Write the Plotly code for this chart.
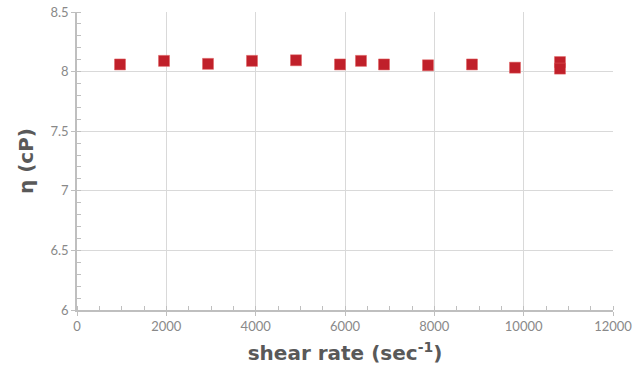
import plotly.graph_objects as go

shear_rate = [963, 1948, 2933, 3918, 4903, 5888, 6358, 6873, 7858, 8843, 9806, 10813, 10813]
viscosity = [8.06, 8.09, 8.065, 8.09, 8.095, 8.06, 8.09, 8.06, 8.053, 8.06, 8.033, 8.08, 8.025]

fig = go.Figure()
fig.add_trace(go.Scatter(
    x=shear_rate, y=viscosity, mode="markers",
    marker=dict(symbol="square", size=11, color="#c0202a",
                line=dict(width=0.5, color="#e06060")),
    showlegend=False,
))

title_font = dict(size=20, color="#595959", family="DejaVu Sans, sans-serif")
fig.update_layout(
    width=643, height=370,
    margin=dict(l=77, r=30, t=12, b=60, autoexpand=False),
    plot_bgcolor="white", paper_bgcolor="white",
    font=dict(family="Lato, sans-serif", color="#898989", size=13),
)
fig.update_xaxes(
    range=[0, 12000], dtick=2000, tick0=0, tickformat="d",
    showgrid=True, gridcolor="#d9d9d9", gridwidth=1,
    showline=True, linecolor="#bfbfbf", linewidth=1.5,
    ticks="outside", ticklen=4, tickcolor="#bfbfbf", zeroline=False, automargin=False,
    minor=dict(dtick=500, ticks="inside", ticklen=4, tickcolor="#bfbfbf", showgrid=False),
    tickfont=dict(size=13, color="#898989"),
    title=dict(text="<b>shear rate (sec<sup>-1</sup>)</b>", font=title_font, standoff=13),
)
fig.update_yaxes(
    range=[6, 8.5], dtick=0.5, tick0=6,
    showgrid=True, gridcolor="#d9d9d9", gridwidth=1,
    showline=True, linecolor="#bfbfbf", linewidth=1.5,
    ticks="outside", ticklen=4, tickcolor="#bfbfbf", zeroline=False, automargin=False,
    minor=dict(dtick=0.1, ticks="inside", ticklen=4, tickcolor="#bfbfbf", showgrid=False),
    tickfont=dict(size=13, color="#898989"),
    title=dict(text="<b>η (cP)</b>", font=title_font, standoff=11),
)

fig.write_html("out.html")
